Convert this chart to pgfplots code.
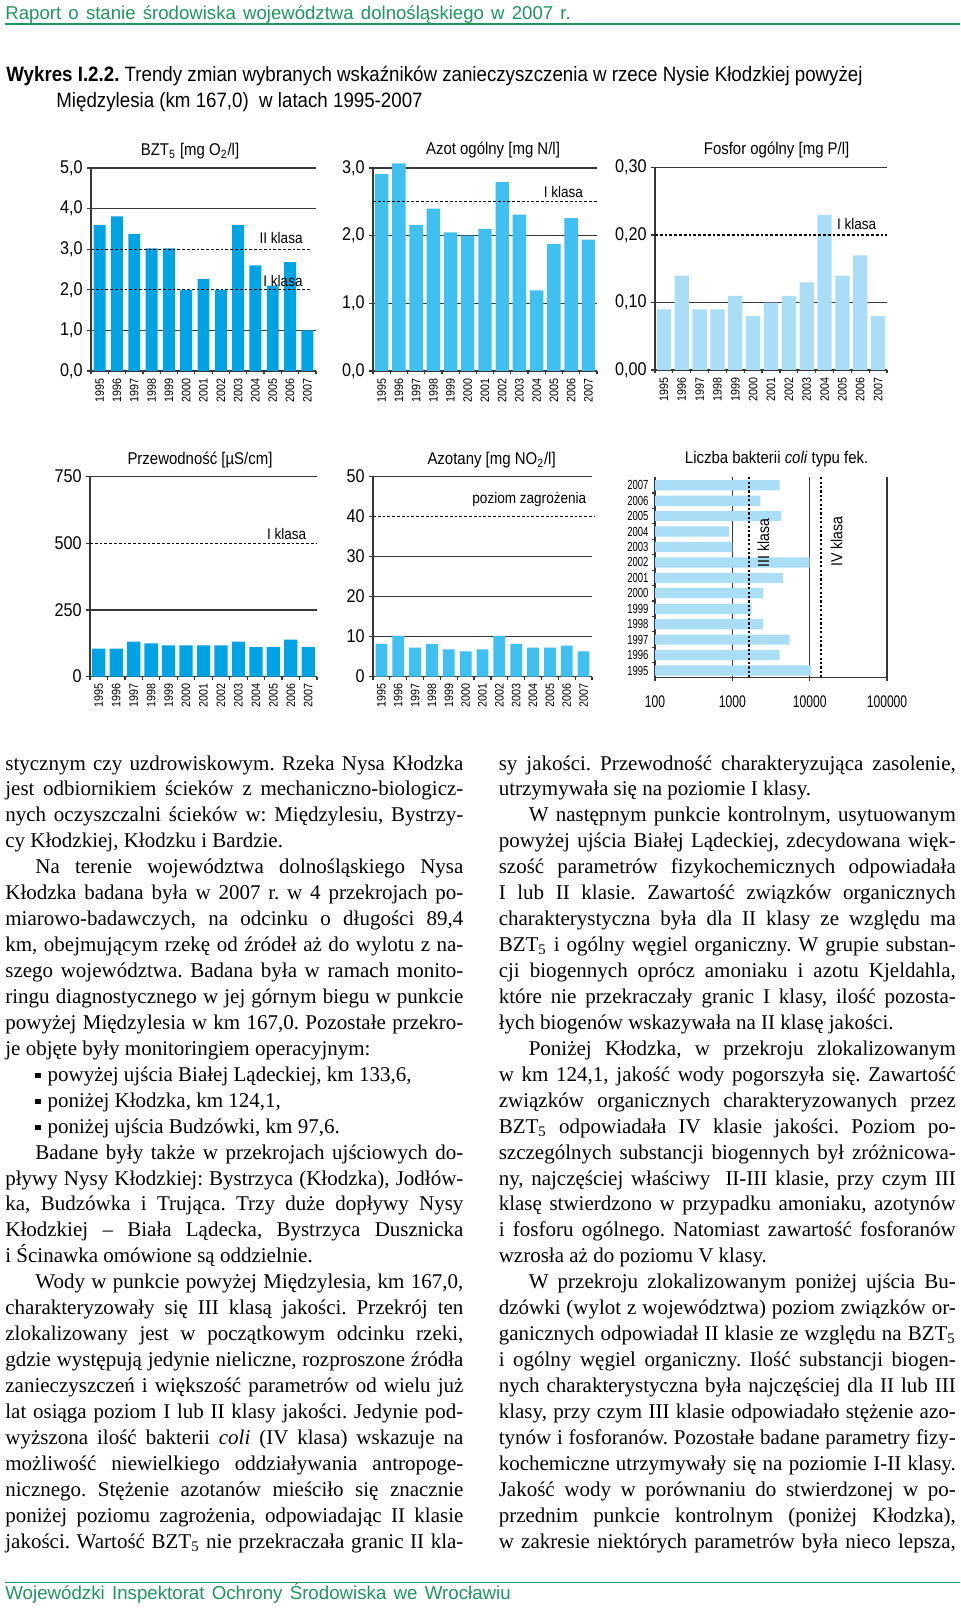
\documentclass[border=0pt]{standalone}
\usepackage{fontspec}
\setmainfont{Liberation Serif}
\newfontfamily\sansfont{Liberation Sans}
\newfontfamily\cnA[FakeStretch=0.88]{Liberation Sans}
\newfontfamily\cnB[FakeStretch=0.72]{Liberation Sans}
\newfontfamily\cnT[FakeStretch=0.9]{Liberation Sans}
\newfontfamily\hdrfont[WordSpace=1.4]{Liberation Sans}
\usepackage{pgfplots}
\pgfplotsset{compat=1.18}

\definecolor{hdrgreen}{RGB}{30,150,95}
\definecolor{bluea}{RGB}{0,164,228}
\definecolor{blueb}{RGB}{64,192,240}
\definecolor{bluec}{RGB}{170,221,246}
\definecolor{lineg}{RGB}{55,55,55}

\newcommand\JL[1]{\makebox[\linewidth][s]{#1}\par}
\newcommand\LL[1]{\makebox[\linewidth][l]{#1}\par}
\newcommand\ind{\hspace*{15pt}}
\newcommand\bul{\hspace*{15pt}\rule[1.6pt]{2.6pt}{2.6pt}\hspace{3.5pt}}

\pgfplotsset{
  chart/.style={
    scale only axis, anchor=south west,
    axis x line*=bottom, axis y line*=left,
    axis line style={lineg, line width=0.6pt, -},
    every tick/.style={lineg, line width=0.6pt},
    tick align=outside, major tick length=2pt, minor tick length=1.6pt,
    xmin=-0.5, xmax=12.5, ymin=0,
    xtick={0,1,2,3,4,5,6,7,8,9,10,11,12},
    xticklabels={1995,1996,1997,1998,1999,2000,2001,2002,2003,2004,2005,2006,2007},
    minor xtick={-0.5,0.5,...,12.5},
    major x tick style={draw=none},
    x tick label style={rotate=90, anchor=east, inner sep=1.5pt,
      font=\cnA\fontsize{6.1}{7}\selectfont},
    y tick label style={font=\cnA\fontsize{9.2}{10}\selectfont, inner sep=2pt},
    ymajorgrids, grid style={lineg, line width=0.6pt},
    extra y tick style={grid=none},
    clip=false,
  },
  cls/.style={black, line width=0.6pt, dash pattern=on 1.4pt off 1pt},
}
\tikzset{
  clslab/.style={font=\cnA\fontsize{7.7}{8}\selectfont, inner sep=0pt},
  ttl/.style={font=\cnA\fontsize{8.5}{9}\selectfont, inner sep=0pt, anchor=base},
}

\begin{document}
\frenchspacing
\begin{tikzpicture}
\useasboundingbox (0,0) rectangle (480pt,-804.5pt);
\fill[white] (0,0) rectangle (480pt,-804.5pt);

% header
\node[anchor=base west, inner sep=0, text=hdrgreen,
  font=\hdrfont\fontsize{9.3}{11}\selectfont] at (2.5pt,-10pt)
  {Raport o stanie środowiska województwa dolnośląskiego w 2007 r.};
\draw[hdrgreen, line width=0.8pt] (2.5pt,-11.9pt) -- (480pt,-11.9pt);

% title
\node[anchor=base west, inner sep=0, font=\cnT\fontsize{10.4}{11}\selectfont]
  at (3pt,-41pt) {\textbf{Wykres I.2.2.} Trendy zmian wybranych wskaźników zanieczyszczenia w rzece Nysie Kłodzkiej powyżej};
\node[anchor=base west, inner sep=0, font=\cnT\fontsize{10.4}{11}\selectfont]
  at (28pt,-54pt) {Międzylesia (km 167,0)\ \ w latach 1995-2007};

% === BZT5 ===
\begin{axis}[chart, at={(45.5pt,-185.5pt)}, width=112.5pt, height=101.5pt,
  ymax=5, ytick={0,1,4,5}, yticklabels={{0,0},{1,0},{4,0},{5,0}},
  extra y ticks={2,3}, extra y tick labels={{2,0},{3,0}}]
\addplot[ybar, bar width=0.69, fill=bluea, draw=none] coordinates {
  (0,3.60) (1,3.81) (2,3.38) (3,3.02) (4,3.02) (5,2.00) (6,2.27)
  (7,2.00) (8,3.60) (9,2.60) (10,2.10) (11,2.68) (12,1.00)};
\addplot[cls] coordinates {(-0.5,3) (12.15,3)};
\addplot[cls] coordinates {(-0.5,2) (12.15,2)};
\end{axis}

% === Azot ogolny ===
\begin{axis}[chart, at={(186.5pt,-185.5pt)}, width=112pt, height=101.5pt,
  ymax=3, ytick={0,1,2,3}, yticklabels={{0,0},{1,0},{2,0},{3,0}}]
\addplot[ybar, bar width=0.78, fill=blueb, draw=none] coordinates {
  (0,2.91) (1,3.07) (2,2.16) (3,2.40) (4,2.05) (5,2.00) (6,2.10)
  (7,2.79) (8,2.31) (9,1.19) (10,1.88) (11,2.26) (12,1.94)};
\addplot[cls] coordinates {(-0.5,2.5) (12.5,2.5)};
\end{axis}

% === Fosfor ogolny ===
\begin{axis}[chart, at={(327.5pt,-185pt)}, width=116pt, height=101.2pt,
  ymax=0.3, ytick={0,0.1,0.3}, yticklabels={{0,00},{0,10},{0,30}},
  extra y ticks={0.2}, extra y tick labels={0{,}20}]
\addplot[ybar, bar width=0.8, fill=bluec, draw=none] coordinates {
  (0,0.09) (1,0.14) (2,0.09) (3,0.09) (4,0.11) (5,0.08) (6,0.10)
  (7,0.11) (8,0.13) (9,0.23) (10,0.14) (11,0.17) (12,0.08)};
\addplot[cls] coordinates {(-0.5,0.2) (12.5,0.2)};
\end{axis}

% === Przewodnosc ===
\begin{axis}[chart, at={(45pt,-338.3pt)}, width=113.5pt, height=100pt,
  ymax=750, ytick={0,250,750}, yticklabels={0,250,750},
  extra y ticks={500}, extra y tick labels={500}]
\addplot[ybar, bar width=0.76, fill=bluea, draw=none] coordinates {
  (0,105) (1,105) (2,131) (3,125) (4,117) (5,117) (6,117)
  (7,117) (8,131) (9,111) (10,111) (11,139) (12,111)};
\addplot[cls] coordinates {(-0.5,500) (12.5,500)};
\end{axis}

% === Azotany ===
\begin{axis}[chart, at={(186.5pt,-338.3pt)}, width=109.5pt, height=100pt,
  ymax=50, ytick={0,10,20,30,50}, yticklabels={0,10,20,30,50},
  extra y ticks={40}, extra y tick labels={40}]
\addplot[ybar, bar width=0.7, fill=blueb, draw=none] coordinates {
  (0,8.2) (1,10.2) (2,7.25) (3,8.2) (4,6.8) (5,6.3) (6,6.8)
  (7,10.2) (8,8.2) (9,7.25) (10,7.25) (11,7.75) (12,6.3)};
\addplot[cls] coordinates {(-0.5,40) (12.7,40)};
\end{axis}

% === Bakterie coli ===
\begin{axis}[scale only axis, anchor=south west, at={(327.5pt,-338.7pt)},
  width=116pt, height=100.3pt,
  xmode=log, xmin=100, xmax=100000, log origin x=infty,
  ymin=-0.45, ymax=12.55,
  axis x line*=bottom, axis y line*=left,
  axis line style={lineg, line width=0.6pt, -},
  every tick/.style={lineg, line width=0.6pt},
  tick align=outside, major tick length=1.6pt, minor tick length=1.6pt,
  xtick={100,1000,10000,100000}, xticklabels={100,1000,10000,100000},
  xminorticks=false,
  xmajorgrids, grid style={lineg, line width=0.6pt},
  x tick label style={font=\cnB\fontsize{8.4}{9}\selectfont, yshift=-4pt},
  ytick={0,1,2,3,4,5,6,7,8,9,10,11,12},
  yticklabels={1995,1996,1997,1998,1999,2000,2001,2002,2003,2004,2005,2006,2007},
  major y tick style={draw=none},
  minor ytick={0.5,1.5,...,11.5},
  y tick label style={font=\cnB\fontsize{6.6}{7}\selectfont, inner sep=1.5pt},
  clip=false]
\addplot[xbar, bar width=0.66, fill=bluec, draw=none] coordinates {
  (10500,0) (4100,1) (5500,2) (2500,3) (1770,4) (2500,5) (4500,6)
  (10000,7) (1000,8) (900,9) (4300,10) (2300,11) (4100,12)};
\addplot[black, line width=1.2pt, dash pattern=on 1.1pt off 1.1pt]
  coordinates {(1650,-0.45) (1650,12.55)};
\addplot[black, line width=1.2pt, dash pattern=on 1.1pt off 1.1pt]
  coordinates {(14000,-0.45) (14000,12.55)};
\end{axis}

% chart titles
\node[ttl] at (95pt,-78pt) {BZT\textsubscript{5} [mg O\textsubscript{2}/l]};
\node[ttl] at (246.5pt,-77.5pt) {Azot ogólny [mg N/l]};
\node[ttl] at (388.3pt,-77.2pt) {Fosfor ogólny [mg P/l]};
\node[ttl] at (100pt,-232.2pt) {Przewodność [µS/cm]};
\node[ttl] at (245.8pt,-232.5pt) {Azotany [mg NO\textsubscript{2}/l]};
\node[ttl] at (388.3pt,-231.7pt) {Liczba bakterii \textit{coli} typu fek.};

% class labels
\node[clslab, anchor=base east] at (151.5pt,-122pt) {II klasa};
\node[clslab, anchor=base east] at (151.5pt,-143.3pt) {I klasa};
\node[clslab, anchor=base east] at (291.7pt,-98.7pt) {I klasa};
\node[clslab, anchor=base east] at (438.3pt,-115pt) {I klasa};
\node[clslab, anchor=base east] at (153.3pt,-269.7pt) {I klasa};
\node[clslab, anchor=base east] at (293.3pt,-251.7pt) {poziom zagrożenia};
\node[clslab, rotate=90, font=\cnA\fontsize{8}{9}\selectfont] at (381.7pt,-271.5pt) {III klasa};
\node[clslab, rotate=90, font=\cnA\fontsize{8}{9}\selectfont] at (418.3pt,-270.8pt) {IV klasa};

% body text, left column
\node[anchor=base west, inner sep=0] at (2.5pt,-385pt) {\parbox[t]{229pt}{%
\fontsize{10.5}{12.97}\selectfont
\JL{stycznym czy uzdrowiskowym. Rzeka Nysa Kłodzka}
\JL{jest odbiornikiem ścieków z mechaniczno-biologicz-}
\JL{nych oczyszczalni ścieków w: Międzylesiu, Bystrzy-}
\LL{cy Kłodzkiej, Kłodzku i Bardzie.}
\JL{\ind Na terenie województwa dolnośląskiego Nysa}
\JL{Kłodzka badana była w 2007 r. w 4 przekrojach po-}
\JL{miarowo-badawczych, na odcinku o długości 89,4}
\JL{km, obejmującym rzekę od źródeł aż do wylotu z na-}
\JL{szego województwa. Badana była w ramach monito-}
\JL{ringu diagnostycznego w jej górnym biegu w punkcie}
\JL{powyżej Międzylesia w km 167,0. Pozostałe przekro-}
\LL{je objęte były monitoringiem operacyjnym:}
\LL{\bul powyżej ujścia Białej Lądeckiej, km 133,6,}
\LL{\bul poniżej Kłodzka, km 124,1,}
\LL{\bul poniżej ujścia Budzówki, km 97,6.}
\JL{\ind Badane były także w przekrojach ujściowych do-}
\JL{pływy Nysy Kłodzkiej: Bystrzyca (Kłodzka), Jodłów-}
\JL{ka, Budzówka i Trująca. Trzy duże dopływy Nysy}
\JL{Kłodzkiej -- Biała Lądecka, Bystrzyca Dusznicka}
\LL{i Ścinawka omówione są oddzielnie.}
\JL{\ind Wody w punkcie powyżej Międzylesia, km 167,0,}
\JL{charakteryzowały się III klasą jakości. Przekrój ten}
\JL{zlokalizowany jest w początkowym odcinku rzeki,}
\JL{gdzie występują jedynie nieliczne, rozproszone źródła}
\JL{zanieczyszczeń i większość parametrów od wielu już}
\JL{lat osiąga poziom I lub II klasy jakości. Jedynie pod-}
\JL{wyższona ilość bakterii \textit{coli} (IV klasa) wskazuje na}
\JL{możliwość niewielkiego oddziaływania antropoge-}
\JL{nicznego. Stężenie azotanów mieściło się znacznie}
\JL{poniżej poziomu zagrożenia, odpowiadając II klasie}
\JL{jakości. Wartość BZT\textsubscript{5} nie przekraczała granic II kla-}
}};

% body text, right column
\node[anchor=base west, inner sep=0] at (249.2pt,-385pt) {\parbox[t]{228.5pt}{%
\fontsize{10.5}{12.97}\selectfont
\JL{sy jakości. Przewodność charakteryzująca zasolenie,}
\LL{utrzymywała się na poziomie I klasy.}
\JL{\ind W następnym punkcie kontrolnym, usytuowanym}
\JL{powyżej ujścia Białej Lądeckiej, zdecydowana więk-}
\JL{szość parametrów fizykochemicznych odpowiadała}
\JL{I lub II klasie. Zawartość związków organicznych}
\JL{charakterystyczna była dla II klasy ze względu ma}
\JL{BZT\textsubscript{5} i ogólny węgiel organiczny. W grupie substan-}
\JL{cji biogennych oprócz amoniaku i azotu Kjeldahla,}
\JL{które nie przekraczały granic I klasy, ilość pozosta-}
\LL{łych biogenów wskazywała na II klasę jakości.}
\JL{\ind Poniżej Kłodzka, w przekroju zlokalizowanym}
\JL{w km 124,1, jakość wody pogorszyła się. Zawartość}
\JL{związków organicznych charakteryzowanych przez}
\JL{BZT\textsubscript{5} odpowiadała IV klasie jakości. Poziom po-}
\JL{szczególnych substancji biogennych był zróżnicowa-}
\JL{ny, najczęściej właściwy \ II-III klasie, przy czym III}
\JL{klasę stwierdzono w przypadku amoniaku, azotynów}
\JL{i fosforu ogólnego. Natomiast zawartość fosforanów}
\LL{wzrosła aż do poziomu V klasy.}
\JL{\ind W przekroju zlokalizowanym poniżej ujścia Bu-}
\JL{dzówki (wylot z województwa) poziom związków or-}
\JL{ganicznych odpowiadał II klasie ze względu na BZT\textsubscript{5}}
\JL{i ogólny węgiel organiczny. Ilość substancji biogen-}
\JL{nych charakterystyczna była najczęściej dla II lub III}
\JL{klasy, przy czym III klasie odpowiadało stężenie azo-}
\JL{tynów i fosforanów. Pozostałe badane parametry fizy-}
\JL{kochemiczne utrzymywały się na poziomie I-II klasy.}
\JL{Jakość wody w porównaniu do stwierdzonej w po-}
\JL{przednim punkcie kontrolnym (poniżej Kłodzka),}
\JL{w zakresie niektórych parametrów była nieco lepsza,}
}};

% footer
\draw[hdrgreen, line width=0.8pt] (2.5pt,-791.3pt) -- (480pt,-791.3pt);
\node[anchor=base west, inner sep=0, text=hdrgreen,
  font=\sansfont\fontsize{9.35}{11}\selectfont] at (2.5pt,-799.5pt)
  {Wojewódzki Inspektorat Ochrony Środowiska we Wrocławiu};
\end{tikzpicture}
\end{document}
